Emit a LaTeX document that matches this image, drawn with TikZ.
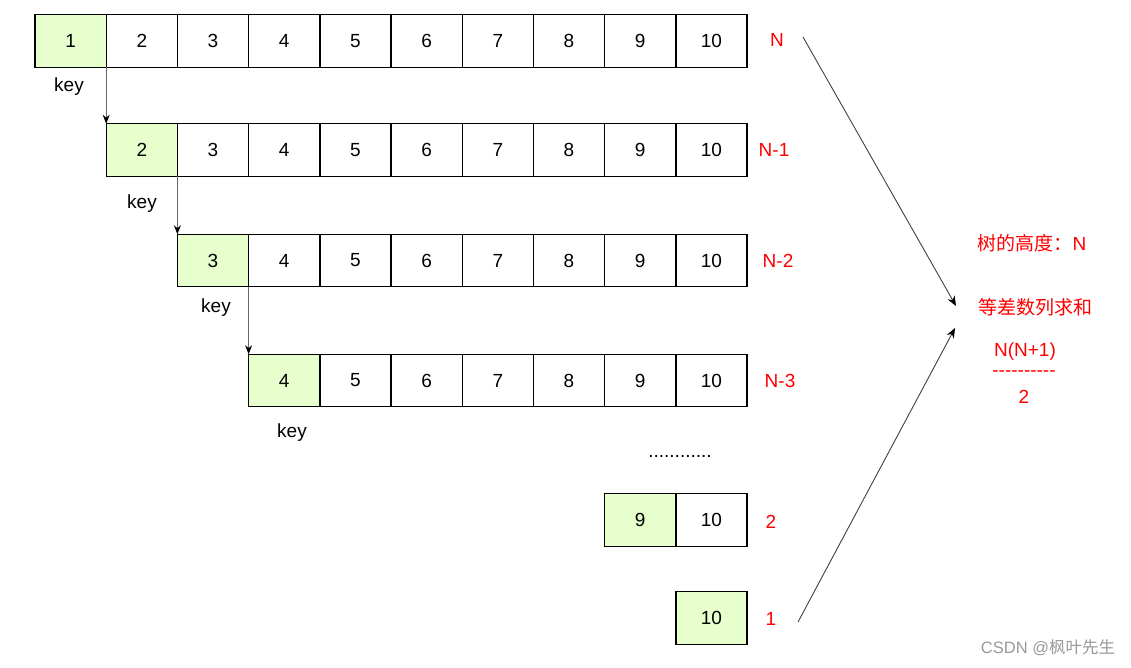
\documentclass[tikz,border=0pt]{standalone}
\usepackage{fontspec}
\setmainfont{Liberation Sans}
\newfontfamily\cjk{Noto Sans CJK SC}
\usepackage{tikz}
\usetikzlibrary{arrows.meta}
\definecolor{keygreen}{RGB}{230,255,204}

\begin{document}
\begin{tikzpicture}[x=1pt,y=-1pt,
    cell/.style={draw=black,line width=1.4pt,fill=white,minimum width=71.2pt,minimum height=52.5pt,inner sep=0pt,outer sep=0pt,font=\fontsize{19}{19}\selectfont},
    keycell/.style={cell,fill=keygreen},
    keylbl/.style={font=\fontsize{19}{19}\selectfont},
    lvl/.style={text=red,font=\fontsize{19}{19}\selectfont},
    note/.style={text=red,font=\fontsize{19}{19}\selectfont},
    keyarrow/.style={draw=black!60,line width=0.9pt,-{Stealth[length=9pt,width=7pt,color=black]}},
    sumarrow/.style={draw=black!75,line width=0.9pt,-{Stealth[length=10pt,width=8pt,color=black]}}]
    \useasboundingbox (0,0) rectangle (1131,667);
    % rows of the list
    \foreach \r/\y in {1/41,2/150,3/260.5,4/380.5} {
        \foreach \v in {\r,...,10} {
            \ifnum\v=\r \def\st{keycell}\else\def\st{cell}\fi
            \node[\st] (r\r-\v) at ({35+(\v-0.5)*71.2},\y) {\v};
        }
    }
    \node[keycell] (r5-9) at ({35+8.5*71.2},520) {9};
    \node[cell] (r5-10) at ({35+9.5*71.2},520) {10};
    \node[keycell] (r6-10) at ({35+9.5*71.2},618) {10};
    % key labels and arrows
    \foreach \r/\x/\y in {1/69/87,2/142/204,3/216/308,4/292/433}
        \node[keylbl] (k\r) at (\x,\y) {key};
    \foreach \a/\b in {1/2,2/3,3/4}
        \draw[keyarrow] (r\a-\a.south east) -- (r\a-\a.south east |- r\b-\b.north west);
    % level labels
    \node[lvl] (l1) at (777,40) {N};
    \node[lvl] (l2) at (774,150) {N-1};
    \node[lvl] (l3) at (778,261) {N-2};
    \node[lvl] (l4) at (780,381) {N-3};
    \node[lvl] (l5) at (771,522) {2};
    \node[lvl] (l6) at (771,619) {1};
    \node[keylbl] (dots) at (680,456) {............};
    % summary
    \coordinate (a1) at (803,37);
    \coordinate (p1) at (956,306);
    \coordinate (a2) at (798,622);
    \coordinate (p2) at (955,328);
    \draw[sumarrow] (a1) -- (p1);
    \draw[sumarrow] (a2) -- (p2);
    \node[note] (h) at (1032,243) {{\cjk 树的高度：}N};
    \node[note] (s) at (1035,307) {\cjk 等差数列求和};
    \node[note] (f1) at (1025,352) {N(N+1)};
    \node[note] (f2) at (1024,374) {\foreach \i in {1,...,10}{\mbox{-}}};
    \node[note] (f3) at (1024,397) {2};
    \node[text=black!40,font=\fontsize{16.5}{16.5}\selectfont] (wm) at (1048,648) {CSDN @{\cjk 枫叶先生}};
\end{tikzpicture}
\end{document}
